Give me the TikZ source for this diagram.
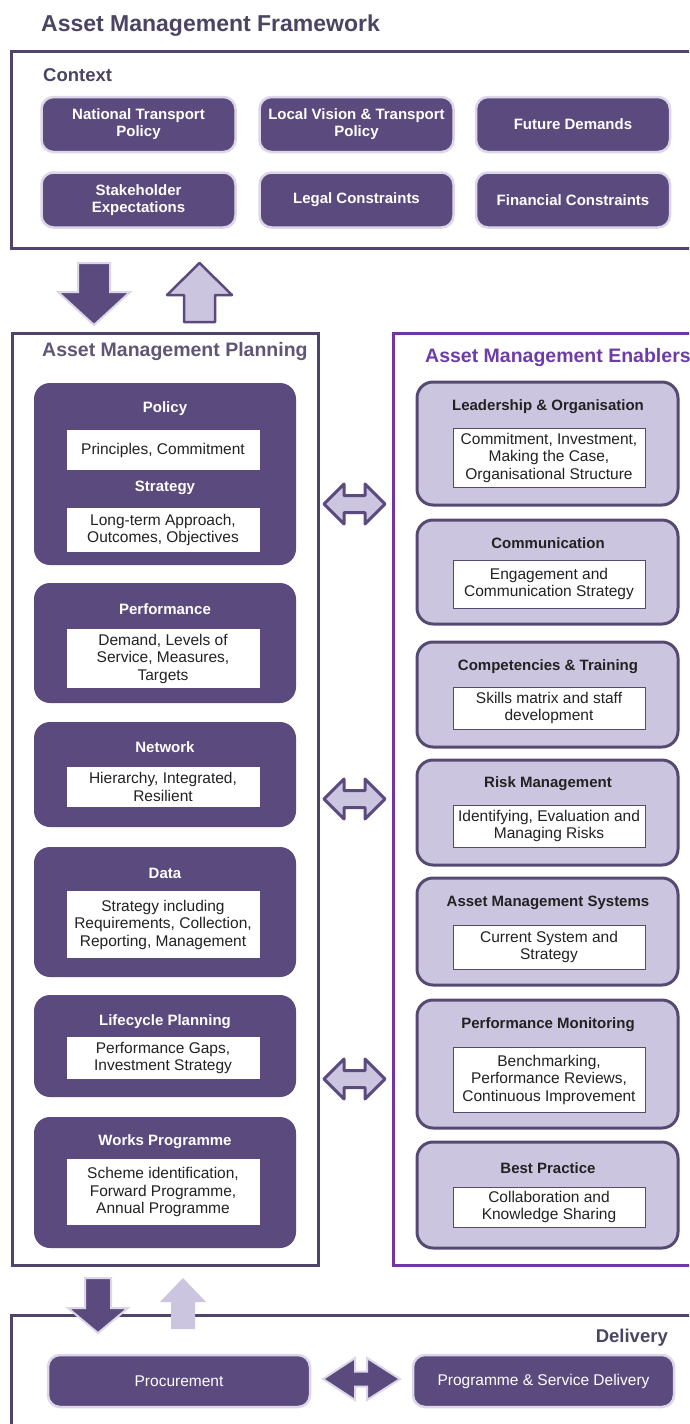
\documentclass[tikz,border=0pt]{standalone}
\usepackage{fontspec}
\setmainfont{Liberation Sans}
\definecolor{dk}{HTML}{5B4A7E}
\definecolor{framec}{HTML}{4F4469}
\definecolor{enf}{HTML}{7236A4}
\definecolor{lt}{HTML}{CCC5E0}
\definecolor{halo}{HTML}{DCD6E8}
\definecolor{ttl}{HTML}{4B4462}
\definecolor{ptl}{HTML}{5F5677}
\definecolor{etl}{HTML}{6E3CA6}
\definecolor{eout}{HTML}{574A72}
\definecolor{txt}{HTML}{222222}
\tikzset{
 heading/.style={font=\fontsize{19.5}{22}\selectfont\bfseries, anchor=west, inner sep=0pt},
 ctxbox/.style={draw=halo, line width=2.5pt, fill=dk, rounded corners=12pt, minimum width=194pt, minimum height=55pt, text=white, font=\fontsize{15}{17}\selectfont\bfseries, align=center, inner sep=2pt},
 delbox/.style={draw=halo, line width=2.5pt, fill=dk, rounded corners=12pt, minimum width=262pt, minimum height=52pt, text=white, font=\fontsize{15.5}{18}\selectfont, inner sep=2pt},
 planbox/.style={fill=dk, rounded corners=16pt, minimum width=262pt, inner sep=0pt},
 enabbox/.style={fill=lt, draw=eout, line width=3pt, rounded corners=16pt, minimum width=261pt, inner sep=0pt},
 ptitle/.style={text=white, font=\fontsize{15}{18}\selectfont\bfseries, inner sep=0pt},
 etitle/.style={text=txt, font=\fontsize{15}{18}\selectfont\bfseries, inner sep=0pt},
 wbox/.style={fill=white, minimum width=193pt, align=center, font=\fontsize{15.5}{17.5}\selectfont, text=txt, inner sep=0pt},
 ewbox/.style={wbox, minimum width=192pt, draw=eout, line width=0.8pt},
 framel/.style={draw=framec, line width=3pt},
 darrow/.style={fill=lt, draw=dk, line width=3pt, line join=round},
 solidarrow/.style={fill=dk, draw=halo, line width=2pt, line join=miter},
}
\begin{document}
\begin{tikzpicture}[x=1pt,y=-1pt]
\useasboundingbox (0,0) rectangle (689,1424);
\fill[white] (0,0) rectangle (689,1424);
\begin{scope}
\clip (0,0) rectangle (689,1424);

% Title
\node[heading, text=ttl, font=\fontsize{23}{26}\selectfont\bfseries] (title) at (41,26) {Asset Management Framework};

% Context frame
\draw[framel] (11,51) rectangle (720,248);
\node[heading, text=ttl, font=\fontsize{18.5}{22}\selectfont\bfseries] (ctxlabel) at (43,75) {Context};
\node[ctxbox] (ntp) at (138.5,124.5) {National Transport\\Policy};
\node[ctxbox] (lvt) at (356.5,124.5) {Local Vision \& Transport\\Policy};
\node[ctxbox] (fd)  at (573,124.5) {Future Demands};
\node[ctxbox] (se)  at (138.5,200) {Stakeholder\\Expectations};
\node[ctxbox] (lc)  at (356.5,200) {Legal Constraints};
\node[ctxbox] (fc)  at (573,200) {Financial Constraints};

% Arrows context <-> planning
\draw[solidarrow] (78,263)--(110,263)--(110,292)--(130,292)--(94,325)--(58,292)--(78,292)--cycle;
\draw[darrow, line width=2.5pt] (199.5,263)--(232,295)--(215,295)--(215,322)--(184,322)--(184,295)--(167,295)--cycle;

% Planning frame
\draw[framel] (12,333) rectangle (318,1265);
\node[heading, text=ptl] (plabel) at (42,351) {Asset Management Planning};

\node[planbox, minimum height=182pt] (policy) at (165,474) {};
\node[ptitle] (policyt) at (165,409) {Policy};
\node[wbox, minimum height=40pt] (policyw) at (163,450) {Principles, Commitment};
\node[ptitle] (strat) at (165,488) {Strategy};
\node[wbox, minimum height=44pt] (stratw) at (163,530) {Long-term Approach,\\Outcomes, Objectives};

\node[planbox, minimum height=120pt] (perf) at (165,643) {};
\node[ptitle] (perft) at (165,609) {Performance};
\node[wbox, minimum height=59pt] (perfw) at (163,658.5) {Demand, Levels of\\Service, Measures,\\Targets};

\node[planbox, minimum height=105pt] (net) at (165,774.5) {};
\node[ptitle] (nett) at (165,747) {Network};
\node[wbox, minimum height=40pt] (netw) at (163,787) {Hierarchy, Integrated,\\Resilient};

\node[planbox, minimum height=130pt] (data) at (165,912) {};
\node[ptitle] (datat) at (165,873) {Data};
\node[wbox, minimum height=67pt] (dataw) at (163,924.5) {Strategy including\\Requirements, Collection,\\Reporting, Management};

\node[planbox, minimum height=102pt] (life) at (165,1046) {};
\node[ptitle] (lifet) at (165,1022) {Lifecycle Planning};
\node[wbox, minimum height=42pt] (lifew) at (163,1058) {Performance Gaps,\\Investment Strategy};

\node[planbox, minimum height=131pt] (works) at (165,1182.5) {};
\node[ptitle] (workst) at (165,1142) {Works Programme};
\node[wbox, minimum height=66pt] (worksw) at (163,1192) {Scheme identification,\\Forward Programme,\\Annual Programme};

% Enablers frame
\draw[draw=enf, line width=3pt] (393,333) rectangle (720,1265);
\node[heading, text=etl] (elabel) at (425,357) {Asset Management Enablers};

\node[enabbox, minimum height=123pt] (lead) at (547.5,443.5) {};
\node[etitle] (leadt) at (548,407) {Leadership \& Organisation};
\node[ewbox, minimum height=59pt] (leadw) at (549,457.5) {Commitment, Investment,\\Making the Case,\\Organisational Structure};

\node[enabbox, minimum height=104pt] (comm) at (547.5,572) {};
\node[etitle] (commt) at (548,543) {Communication};
\node[ewbox, minimum height=48pt] (commw) at (549,584) {Engagement and\\Communication Strategy};

\node[enabbox, minimum height=105pt] (comp) at (547.5,694.5) {};
\node[etitle] (compt) at (548,667) {Competencies \& Training};
\node[ewbox, minimum height=42pt] (compw) at (549,708) {Skills matrix and staff\\development};

\node[enabbox, minimum height=105pt] (risk) at (547.5,812.5) {};
\node[etitle] (riskt) at (548,784) {Risk Management};
\node[ewbox, minimum height=42pt] (riskw) at (549,826) {Identifying, Evaluation and\\Managing Risks};

\node[enabbox, minimum height=107pt] (ams) at (547.5,931.5) {};
\node[etitle] (amst) at (548,903) {Asset Management Systems};
\node[ewbox, minimum height=44pt] (amsw) at (549,947) {Current System and\\Strategy};

\node[enabbox, minimum height=128pt] (pm) at (547.5,1064) {};
\node[etitle] (pmt) at (548,1025) {Performance Monitoring};
\node[ewbox, minimum height=65pt] (pmw) at (549,1079.5) {Benchmarking,\\Performance Reviews,\\Continuous Improvement};

\node[enabbox, minimum height=106pt] (best) at (547.5,1195) {};
\node[etitle] (bestt) at (548,1168) {Best Practice};
\node[ewbox, minimum height=40pt] (bestw) at (549,1207) {Collaboration and\\Knowledge Sharing};

% Double arrows planning <-> enablers
\foreach \cy in {504,799,1079}{
 \draw[darrow] (324,\cy)--(344,\cy-20)--(344,\cy-8.5)--(365,\cy-8.5)--(365,\cy-20)--(385,\cy)
   --(365,\cy+20)--(365,\cy+8.5)--(344,\cy+8.5)--(344,\cy+20)--cycle;
}

% Delivery frame
\draw[framel] (11,1440)--(11,1315)--(720,1315);
\draw[solidarrow] (85,1278)--(111,1278)--(111,1308)--(128,1308)--(98,1333)--(68,1308)--(85,1308)--cycle;
\fill[lt] (183,1278)--(206,1302)--(195,1302)--(195,1329)--(171,1329)--(171,1302)--(160,1302)--cycle;
\node[heading, anchor=east, text=ttl, font=\fontsize{18.5}{22}\selectfont\bfseries] (dlabel) at (668,1338) {Delivery};
\node[delbox] (proc) at (179,1381) {Procurement};
\node[delbox, minimum width=261pt] (psd) at (543.5,1381) {Programme \& Service Delivery};
\draw[solidarrow] (323,1379)--(355,1358)--(355,1371.5)--(367,1371.5)--(367,1358)--(400,1379)
  --(367,1400)--(367,1386.5)--(355,1386.5)--(355,1400)--cycle;
\end{scope}
\end{tikzpicture}
\end{document}
